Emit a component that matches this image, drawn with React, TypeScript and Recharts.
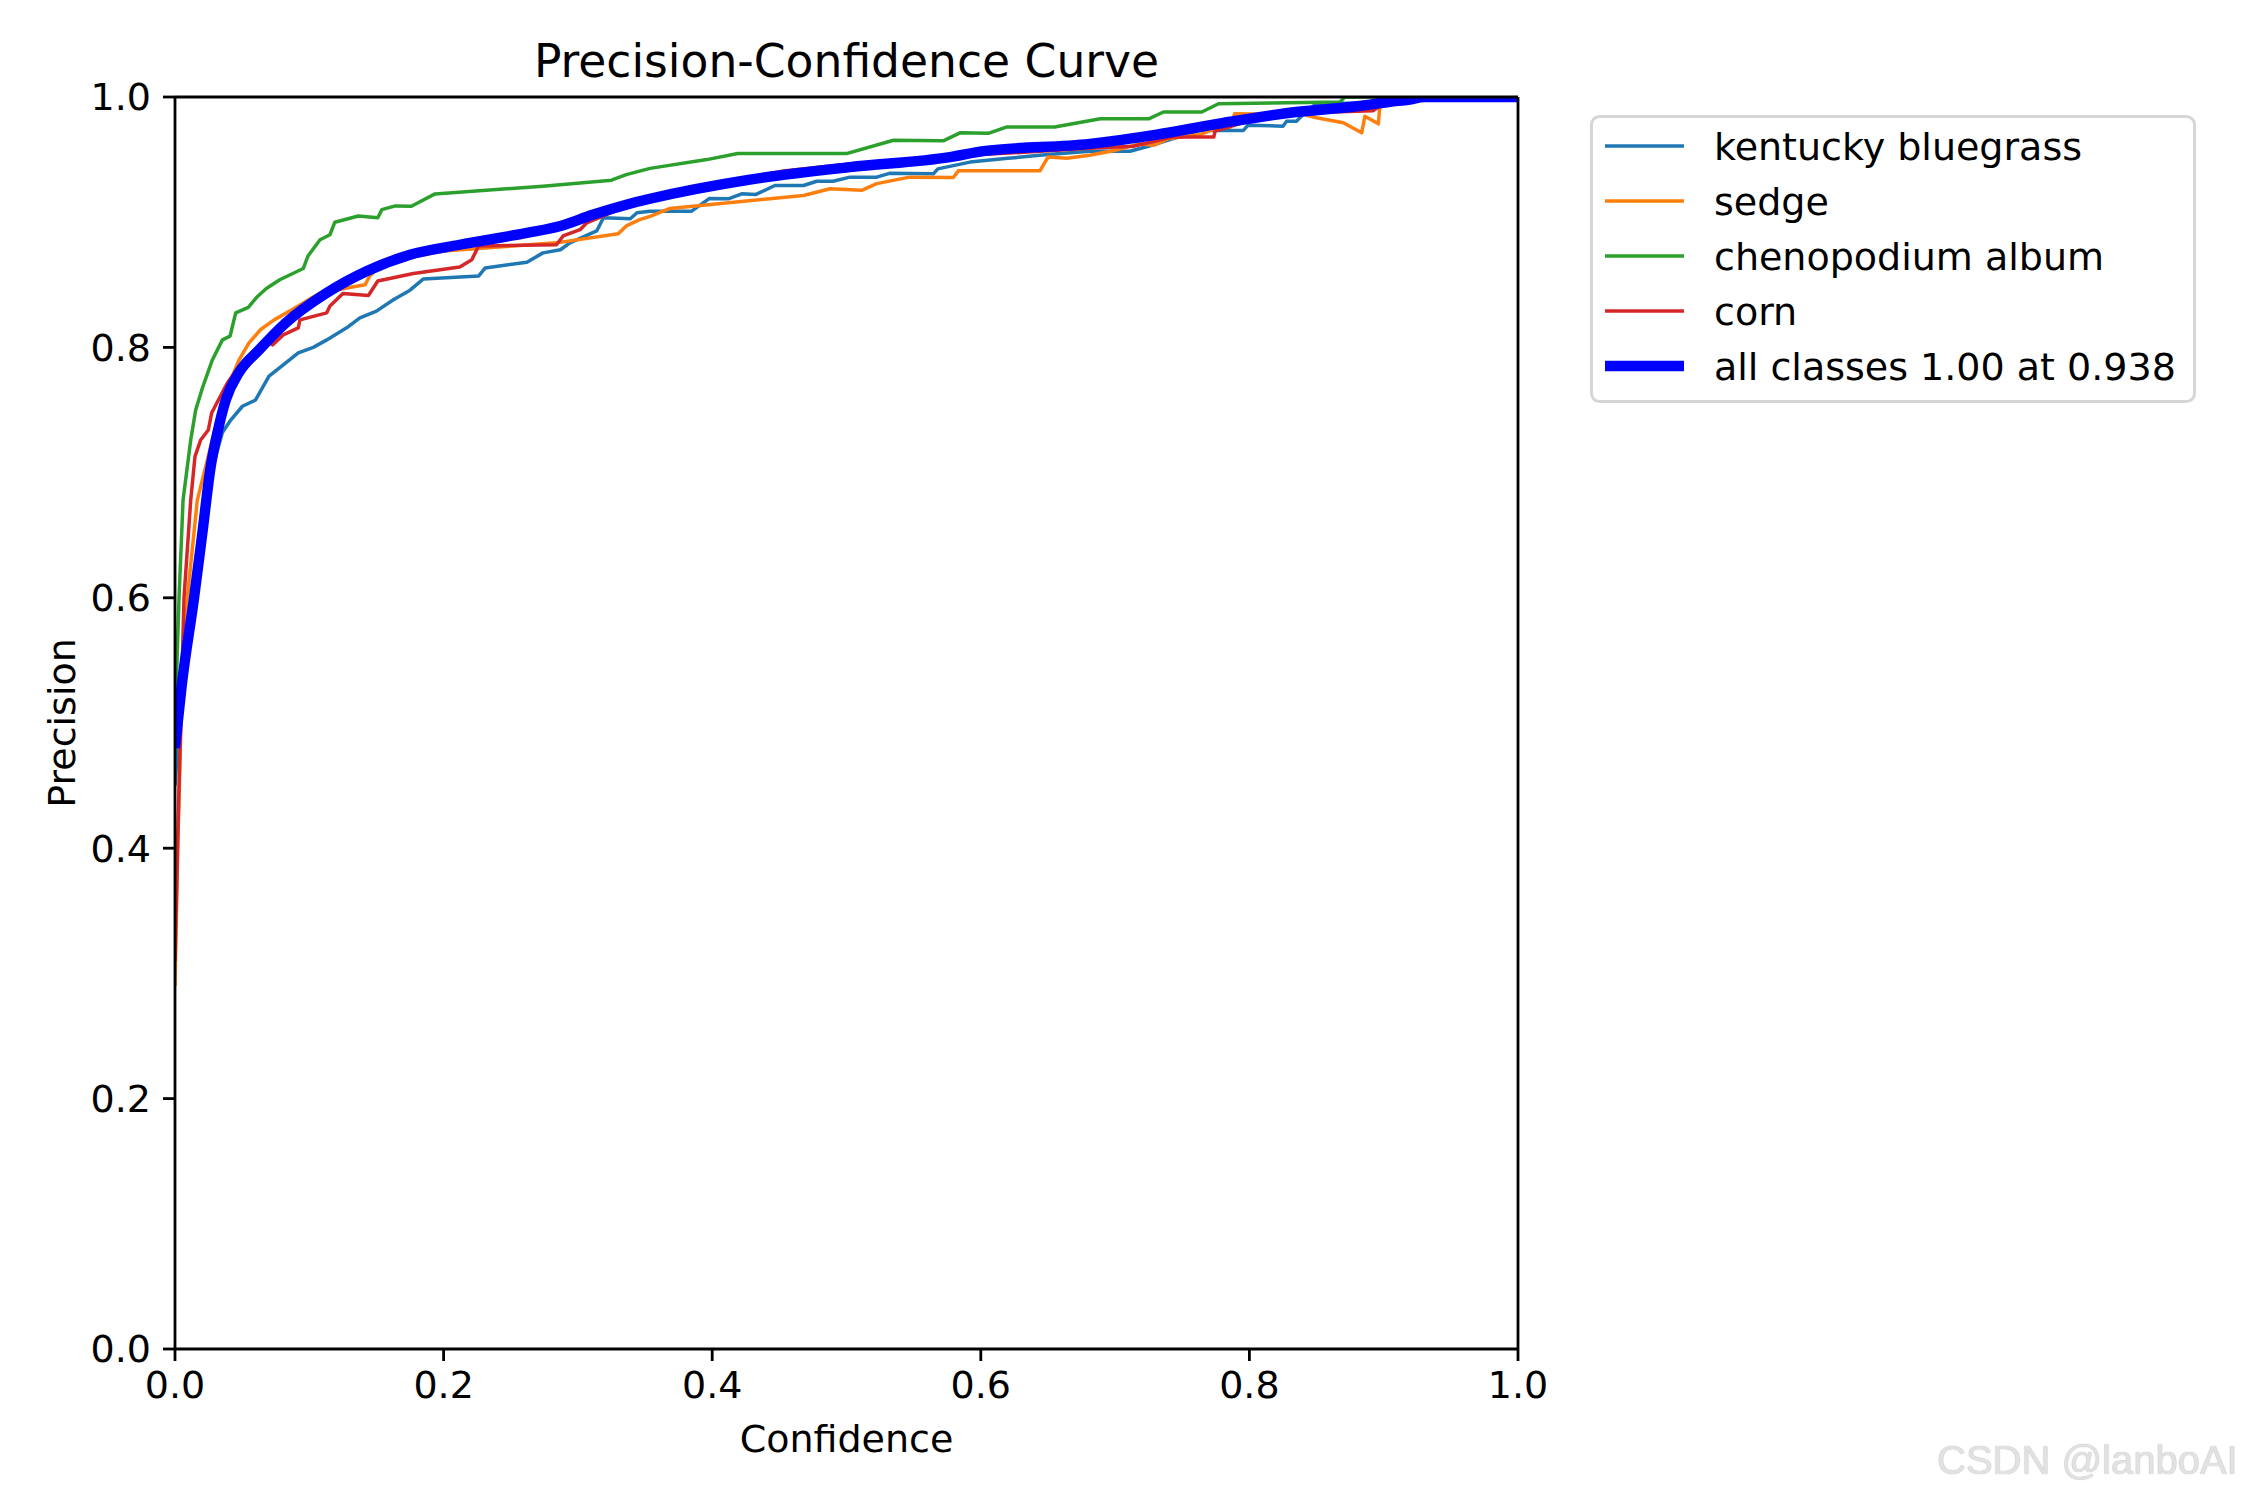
import { LineChart, Line, XAxis, YAxis } from "recharts";

// confidence / precision pairs
const kentuckyConf = [0, 0.005, 0.012, 0.02, 0.027, 0.0316, 0.0353, 0.0415, 0.0502, 0.06, 0.07, 0.0806, 0.0918, 0.103, 0.113, 0.1278, 0.1377, 0.15, 0.1626, 0.175, 0.185, 0.226, 0.231, 0.262, 0.274, 0.287, 0.294, 0.314, 0.319, 0.339, 0.344, 0.3537, 0.3847, 0.398, 0.412, 0.422, 0.4326, 0.4467, 0.468, 0.4778, 0.49, 0.5026, 0.5225, 0.532, 0.5647, 0.568, 0.592, 0.62, 0.65, 0.681, 0.711, 0.7248, 0.763, 0.7955, 0.799, 0.825, 0.8277, 0.835, 0.84, 0.85, 0.912, 0.925, 1.0];
const kentuckyPrec = [0.45, 0.53, 0.6, 0.655, 0.7, 0.718, 0.732, 0.742, 0.753, 0.758, 0.777, 0.786, 0.7956, 0.8, 0.806, 0.8156, 0.8236, 0.829, 0.838, 0.8457, 0.8547, 0.857, 0.8635, 0.868, 0.8755, 0.878, 0.8835, 0.893, 0.9035, 0.9027, 0.9075, 0.9088, 0.9088, 0.919, 0.9187, 0.9227, 0.9222, 0.9293, 0.9293, 0.9327, 0.9327, 0.936, 0.936, 0.939, 0.9386, 0.9426, 0.948, 0.951, 0.954, 0.9567, 0.9567, 0.9607, 0.9733, 0.9733, 0.9775, 0.9767, 0.9807, 0.9807, 0.986, 0.995, 0.995, 1.0, 1.0];

const sedgeConf = [0, 0.002, 0.005, 0.0092, 0.0166, 0.0229, 0.0353, 0.0477, 0.0551, 0.0638, 0.0738, 0.087, 0.108, 0.1278, 0.1415, 0.145, 0.155, 0.1998, 0.284, 0.33, 0.336, 0.346, 0.3537, 0.3686, 0.468, 0.4877, 0.5113, 0.5225, 0.547, 0.5795, 0.5833, 0.644, 0.65, 0.664, 0.681, 0.6987, 0.718, 0.729, 0.7396, 0.763, 0.776, 0.786, 0.789, 0.8405, 0.85, 0.87, 0.8836, 0.886, 0.896, 0.897, 0.91, 1.0];
const sedgePrec = [0.29, 0.4, 0.52, 0.6, 0.678, 0.705, 0.758, 0.79, 0.8036, 0.8143, 0.822, 0.83, 0.8435, 0.8475, 0.85, 0.857, 0.8675, 0.877, 0.8835, 0.8907, 0.897, 0.902, 0.9047, 0.911, 0.9213, 0.9267, 0.9255, 0.9308, 0.936, 0.9357, 0.941, 0.941, 0.952, 0.951, 0.9535, 0.957, 0.9626, 0.9615, 0.9667, 0.97, 0.9754, 0.976, 0.9866, 0.986, 0.9834, 0.9794, 0.9714, 0.9847, 0.9786, 0.9914, 1.0, 1.0];

const chenopodiumConf = [0, 0.003, 0.006, 0.0117, 0.0154, 0.0204, 0.0278, 0.0353, 0.041, 0.0452, 0.0546, 0.0608, 0.068, 0.078, 0.0955, 0.099, 0.108, 0.1154, 0.119, 0.1365, 0.151, 0.154, 0.164, 0.176, 0.1936, 0.274, 0.325, 0.336, 0.3537, 0.396, 0.419, 0.5, 0.535, 0.572, 0.5845, 0.6056, 0.619, 0.655, 0.689, 0.725, 0.736, 0.7645, 0.777, 0.8675, 0.871, 1.0];
const chenopodiumPrec = [0.5, 0.6, 0.678, 0.726, 0.75, 0.7676, 0.79, 0.806, 0.809, 0.8276, 0.832, 0.84, 0.847, 0.854, 0.863, 0.873, 0.886, 0.89, 0.9, 0.905, 0.9035, 0.91, 0.913, 0.9127, 0.9226, 0.9287, 0.9336, 0.938, 0.943, 0.95, 0.9548, 0.9548, 0.9655, 0.965, 0.9714, 0.971, 0.976, 0.976, 0.9826, 0.9826, 0.988, 0.988, 0.9946, 0.996, 1.0, 1.0];

const cornConf = [0, 0.003, 0.0067, 0.0117, 0.0149, 0.0191, 0.0248, 0.0273, 0.0323, 0.039, 0.0477, 0.0707, 0.0726, 0.0806, 0.0918, 0.093, 0.113, 0.1154, 0.125, 0.144, 0.151, 0.1775, 0.212, 0.221, 0.226, 0.284, 0.289, 0.3016, 0.3066, 0.33, 0.36, 0.4, 0.453, 0.5076, 0.55, 0.6, 0.65, 0.681, 0.7135, 0.7425, 0.7735, 0.7744, 0.8, 0.83, 0.892, 0.9, 0.92, 1.0];
const cornPrec = [0.31, 0.45, 0.6, 0.678, 0.713, 0.726, 0.734, 0.7476, 0.758, 0.7716, 0.785, 0.8036, 0.802, 0.81, 0.8156, 0.822, 0.8276, 0.833, 0.843, 0.8414, 0.853, 0.859, 0.8643, 0.87, 0.881, 0.882, 0.889, 0.894, 0.8995, 0.91, 0.92, 0.93, 0.941, 0.947, 0.95, 0.954, 0.957, 0.959, 0.9607, 0.968, 0.968, 0.9727, 0.981, 0.987, 0.989, 0.995, 1.0, 1.0];

const allConf = [0, 0.005, 0.0142, 0.0204, 0.0266, 0.0316, 0.0378, 0.0477, 0.0626, 0.0825, 0.113, 0.143, 0.175, 0.212, 0.262, 0.287, 0.311, 0.336, 0.3537, 0.4281, 0.5026, 0.577, 0.602, 0.6813, 0.731, 0.7806, 0.83, 0.88, 0.9047, 0.9196, 0.93, 1.0];
const allPrec = [0.48, 0.53, 0.6, 0.652, 0.705, 0.732, 0.758, 0.78, 0.798, 0.8196, 0.8435, 0.861, 0.874, 0.882, 0.8915, 0.897, 0.906, 0.914, 0.9187, 0.934, 0.944, 0.952, 0.9567, 0.9626, 0.97, 0.9794, 0.9874, 0.9926, 0.9962, 0.998, 1.0, 1.0];

const ticks = [0, 0.2, 0.4, 0.6, 0.8, 1.0];

const toPoints = (conf: number[], prec: number[]) =>
  conf.map((c, i) => ({ c, p: prec[i] }));

const series = [
  { name: "kentucky bluegrass", color: "#1f77b4", width: 3.5, curve: "linear", data: toPoints(kentuckyConf, kentuckyPrec) },
  { name: "sedge", color: "#ff7f0e", width: 3.5, curve: "linear", data: toPoints(sedgeConf, sedgePrec) },
  { name: "chenopodium album", color: "#2ca02c", width: 3.5, curve: "linear", data: toPoints(chenopodiumConf, chenopodiumPrec) },
  { name: "corn", color: "#d62728", width: 3.5, curve: "linear", data: toPoints(cornConf, cornPrec) },
  { name: "all classes 1.00 at 0.938", color: "#0000ff", width: 10.4, curve: "monotone", data: toPoints(allConf, allPrec) },
];

const FONT = "'DejaVu Sans', Verdana, sans-serif";
const FS = 38;
const axisStroke = { stroke: "#000", strokeWidth: 2.8 };
const tickStyle = { fontSize: FS, fill: "#000", fontFamily: FONT };

// plot box (matplotlib axes at 250 dpi)
const LEFT = 175;
const TOP = 97;
const RIGHT = 1518;
const BOTTOM = 1349;

const ChartLegend = () => (
  <svg
    width={606}
    height={288}
    style={{ position: "absolute", left: 1590, top: 115 }}
  >
    <rect x={1.5} y={1.5} width={603} height={285} rx={8} fill="rgba(255,255,255,0.8)" stroke="#d6d6d6" strokeWidth={3} />
    {series.map((s, i) => {
      const cy = 31 + i * 55;
      return (
        <g key={s.name}>
          <line x1={15} x2={94} y1={cy} y2={cy} stroke={s.color} strokeWidth={s.width} />
          <text x={124} y={cy + 14} fontSize={FS} fontFamily={FONT} fill="#000">
            {s.name}
          </text>
        </g>
      );
    })}
  </svg>
);

export default function App() {
  return (
    <div style={{ position: "absolute", left: 0, top: 0, width: 2250, height: 1500, background: "#fff" }}>
      <LineChart
        width={2250}
        height={1500}
        margin={{ top: TOP - 30, right: 2250 - RIGHT - 30, bottom: 1500 - BOTTOM - 60, left: LEFT - 100 }}
      >
        <XAxis
          dataKey="c"
          type="number"
          domain={[0, 1]}
          ticks={ticks}
          allowDataOverflow
          height={60}
          tickFormatter={(v: number) => v.toFixed(1)}
          tick={tickStyle}
          tickSize={12}
          tickMargin={10}
          tickLine={axisStroke}
          axisLine={axisStroke}
          label={() => (
            <text x={(LEFT + RIGHT) / 2} y={1452} textAnchor="middle" fontSize={FS} fontFamily={FONT} fill="#000">
              Confidence
            </text>
          )}
        />
        <XAxis
          xAxisId="top"
          orientation="top"
          type="number"
          domain={[0, 1]}
          allowDataOverflow
          height={30}
          tick={false}
          tickLine={false}
          axisLine={axisStroke}
          label={() => (
            <text x={(LEFT + RIGHT) / 2} y={77} textAnchor="middle" fontSize={45.6} fontFamily={FONT} fill="#000">
              Precision-Confidence Curve
            </text>
          )}
        />
        <YAxis
          type="number"
          domain={[0, 1]}
          ticks={ticks}
          allowDataOverflow
          width={100}
          tickFormatter={(v: number) => v.toFixed(1)}
          tick={tickStyle}
          tickSize={12}
          tickMargin={12}
          tickLine={axisStroke}
          axisLine={axisStroke}
          label={() => (
            <text
              x={75}
              y={(TOP + BOTTOM) / 2}
              transform={`rotate(-90, 75, ${(TOP + BOTTOM) / 2})`}
              textAnchor="middle"
              fontSize={FS}
              fontFamily={FONT}
              fill="#000"
            >
              Precision
            </text>
          )}
        />
        <YAxis
          yAxisId="right"
          orientation="right"
          type="number"
          domain={[0, 1]}
          allowDataOverflow
          width={30}
          tick={false}
          tickLine={false}
          axisLine={axisStroke}
        />
        {series.map((s) => (
          <Line
            key={s.name}
            data={s.data}
            dataKey="p"
            name={s.name}
            type={s.curve as "linear" | "monotone"}
            stroke={s.color}
            strokeWidth={s.width}
            strokeLinejoin="round"
            dot={false}
            activeDot={false}
            isAnimationActive={false}
          />
        ))}
      </LineChart>
      <ChartLegend />
      <div
        style={{
          position: "absolute",
          left: 1937,
          top: 1438,
          fontFamily: "'Liberation Sans', Arial, sans-serif",
          fontSize: 40,
          color: "#e2e2e2",
          textShadow: "0 0 1px #a8a8a8",
          whiteSpace: "nowrap",
        }}
      >
        CSDN @lanboAI
      </div>
    </div>
  );
}
